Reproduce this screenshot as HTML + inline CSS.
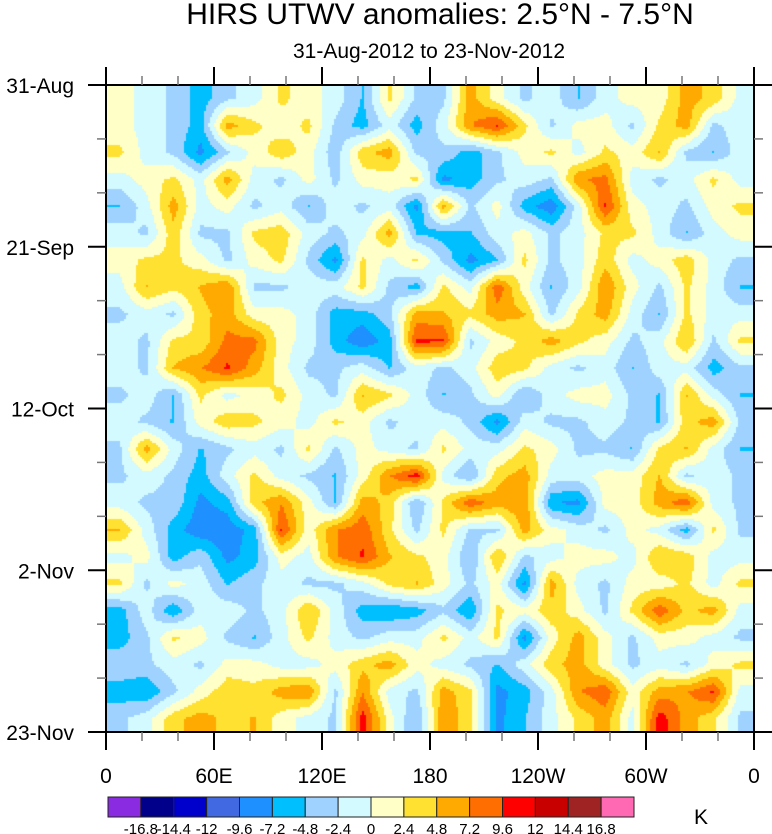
<!DOCTYPE html>
<html><head><meta charset="utf-8"><style>
body{margin:0;background:#fff;width:772px;height:834px;overflow:hidden;font-family:"Liberation Sans",sans-serif}
</style></head><body>
<svg width="772" height="834" xmlns="http://www.w3.org/2000/svg" style="position:absolute;left:0;top:0">
<text x="440" y="24" text-anchor="middle" font-size="30">HIRS UTWV anomalies: 2.5°N - 7.5°N</text>
<text x="429" y="58" text-anchor="middle" font-size="21">31-Aug-2012 to 23-Nov-2012</text>
<foreignObject x="106" y="85" width="648" height="647">
<canvas id="cv" width="648" height="647" style="display:block"></canvas>
</foreignObject>
<g id="axes"></g>
<g id="cbar"></g>
<text x="694" y="824" font-size="21">K</text>
</svg>
<script>
const lonLabels=["0","60E","120E","180","120W","60W","0"];
const dateLabels=["31-Aug","21-Sep","12-Oct","2-Nov","23-Nov"];
const levels=[-16.8,-14.4,-12,-9.6,-7.2,-4.8,-2.4,0,2.4,4.8,7.2,9.6,12,14.4,16.8];
const levelColors=["#8a2be2","#00008b","#0000cd","#4169e1","#1e90ff","#00bfff","#a0d2ff","#d2faff","#ffffc8","#ffe132","#ffaa00","#ff6e00","#ff0000","#c80000","#a02323","#ff69b4"];
const anomalies=[
[1,-1,-3,-6,-3,-1,3,1,-1,-5,3,-3, -3,6,1,-3,-1,-5,-1,1,1,6,4,-1],
[1,-1,-3,-6,6,3,1,3,-3,-6,-1,-6, -1,7,10,3,-3,1,1,-3,3,6,-3,-1],
[3,-1,-3,-8,-3,1,4,1,-4,4,6,-3, -3,-6,-3,1,3,-1,3,1,5,-3,-5,-1],
[-1,1,3,-1,6,-1,-3,1,-3,1,1,3, -8,-6,-3,-1,-3,7,8,-1,-3,-1,3,-1],
[-5,-1,6,-1,1,-3,-1,-5,-1,-3,-1,-8, 6,-3,1,-6,-9,-1,10,1,-1,-3,1,3],
[-1,-3,4,-3,-3,3,4,-1,-3,-1,6,-5, -6,-5,-1,1,-3,-1,3,3,-1,-5,-1,1],
[1,3,3,1,-3,1,3,-3,-8,3,-1,3, -3,-8,-5,3,-3,-1,4,-1,1,4,-1,-3],
[-1,5,3,5,7,-3,-3,-1,-1,3,-3,-6, 3,-1,9,1,-5,-1,7,1,-3,3,-1,-5],
[-3,-1,-3,4,6,1,1,-1,-6,-6,-3,6, 5,3,6,5,-3,3,6,-1,-5,3,-1,-1],
[-1,-3,3,3,8,8,1,-1,-6,-9,-6,10, 10,-3,1,3,6,3,1,-3,-1,5,-3,3],
[-1,-3,5,7,10,6,1,-3,-3,-1,-5,-1, -3,-1,4,3,-1,-3,-1,-5,-1,-1,-6,-3],
[-3,-1,-5,3,-1,1,3,-1,-3,5,3,-1, -5,-3,1,-5,-1,1,1,-3,-5,5,-1,-5],
[-1,-3,-5,1,4,3,1,-1,3,1,-3,-1, -1,-3,-8,-1,-3,-3,-1,-3,-5,4,6,-3],
[-3,6,-1,-5,-3,-1,-3,3,-3,1,-1,-3, 3,-1,-1,3,1,-3,-3,-5,3,5,-1,-5],
[-3,-1,-3,-6,-1,3,-1,-3,-5,1,7,11, -1,-5,4,6,-1,-1,1,1,5,-3,-1,-3],
[-1,-3,-3,-8,-6,4,7,1,-5,6,4,-5, 3,9,6,7,-7,-8,1,1,6,9,-1,-3],
[5,-1,-6,-9,-9,-6,10,1,7,9,3,-3, 3,-3,-3,6,1,-1,-3,1,-1,-6,3,-3],
[-1,1,-6,-3,-8,-6,1,-1,7,10,5,3, 1,-5,5,-3,-1,1,1,-1,5,4,-1,-1],
[3,-3,1,-1,-5,-3,-1,-3,-3,-1,3,5, 1,-3,1,-8,6,-1,-3,1,1,3,-1,3],
[-6,-1,-7,-1,-1,-3,-1,5,-1,-6,-7,-6, -3,-7,3,1,4,1,-3,3,9,4,6,-1],
[-6,-3,3,1,-3,-5,-1,3,-1,-3,-1,-1, 3,-1,3,-8,1,6,1,-3,1,1,-1,-3],
[-3,-3,-1,-3,1,1,-1,-1,1,4,6,1, -1,-3,-5,-1,4,6,1,-3,-1,-3,1,3],
[-6,-7,-3,1,4,3,6,7,-3,7,-1,-3, 6,3,-8,-6,-1,7,9,1,6,7,10,-1],
[-3,-1,4,6,4,5,1,-1,-3,11,1,-5, 7,3,-8,-5,-1,3,6,-1,11,6,3,-3]
];
const X0=106,X1=754,Y0=85,Y1=732;
const nR=anomalies.length,nC=anomalies[0].length;
function colorFor(v){let i=0;while(i<levels.length&&v>=levels[i])i++;return levelColors[i];}
function val(fx,fy){
  fx=Math.max(0,Math.min(nC-1,fx));fy=Math.max(0,Math.min(nR-1,fy));
  const x0=Math.floor(fx),y0=Math.floor(fy),x1=Math.min(nC-1,x0+1),y1=Math.min(nR-1,y0+1);
  const tx=fx-x0,ty=fy-y0;
  const a=anomalies[y0][x0]*(1-tx)+anomalies[y0][x1]*tx;
  const b=anomalies[y1][x0]*(1-tx)+anomalies[y1][x1]*tx;
  return a*(1-ty)+b*ty;
}
const cv=document.getElementById('cv'),ctx=cv.getContext('2d');
const W=X1-X0,H=Y1-Y0,cw=W/nC,ch=H/nR,S=2;
for(let py=0;py<H;py+=S)for(let px=0;px<W;px+=S){
  const v=val((px+S/2)/cw-0.5,(py+S/2)/ch-0.5);
  ctx.fillStyle=colorFor(v);ctx.fillRect(px,py,S,S);
}
const NS='http://www.w3.org/2000/svg';
function el(tag,attrs,parent){const e=document.createElementNS(NS,tag);for(const k in attrs)e.setAttribute(k,attrs[k]);parent.appendChild(e);return e;}
const ax=document.getElementById('axes');
const frame=el('rect',{x:X0,y:Y0,width:W,height:H,fill:'none',stroke:'#000','stroke-width':2},ax);


const xs=i=>X0+W*i/(lonLabels.length-1);
const ys=i=>Y0+H*i/(dateLabels.length-1);
for(let k=0;k<=18;k++){
  const x=X0+W*k/18,major=k%3===0,L=major?18:9,c=major?'#000':'#777',w=major?2:1.5;
  const t1=el('line',{x1:x,x2:x,y1:Y1,y2:Y1+L,stroke:c,'stroke-width':w},ax);
  
  
  const t2=el('line',{x1:x,x2:x,y1:Y0,y2:Y0-L,stroke:c,'stroke-width':w},ax);
  
  
}
lonLabels.forEach((s,i)=>{const t=el('text',{x:xs(i),y:783,'text-anchor':'middle','font-size':21},ax);t.textContent=s;
  
  });
for(let k=0;k<=12;k++){
  const y=Y0+H*k/12,major=k%3===0,L=major?18:9,c=major?'#000':'#777',w=major?2:1.5;
  const t1=el('line',{x1:X0,x2:X0-L,y1:y,y2:y,stroke:c,'stroke-width':w},ax);
  
  
  const t2=el('line',{x1:X1,x2:X1+L,y1:y,y2:y,stroke:c,'stroke-width':w},ax);
  
  
}
dateLabels.forEach((s,i)=>{const t=el('text',{x:74,y:ys(i)+8,'text-anchor':'end','font-size':21},ax);t.textContent=s;
  
  });
const cb=document.getElementById('cbar');const CX0=108,CX1=634,CY=797,CH=20,bw=(CX1-CX0)/levelColors.length;
levelColors.forEach((c,i)=>{const r=el('rect',{x:CX0+i*bw,y:CY,width:bw,height:CH,fill:c,stroke:'#222','stroke-width':1},cb);
  
  });
levels.forEach((v,i)=>{const t=el('text',{x:CX0+(i+1)*bw,y:834,'text-anchor':'middle','font-size':15},cb);t.textContent=String(v);
  
  });
</script>
</body></html>
